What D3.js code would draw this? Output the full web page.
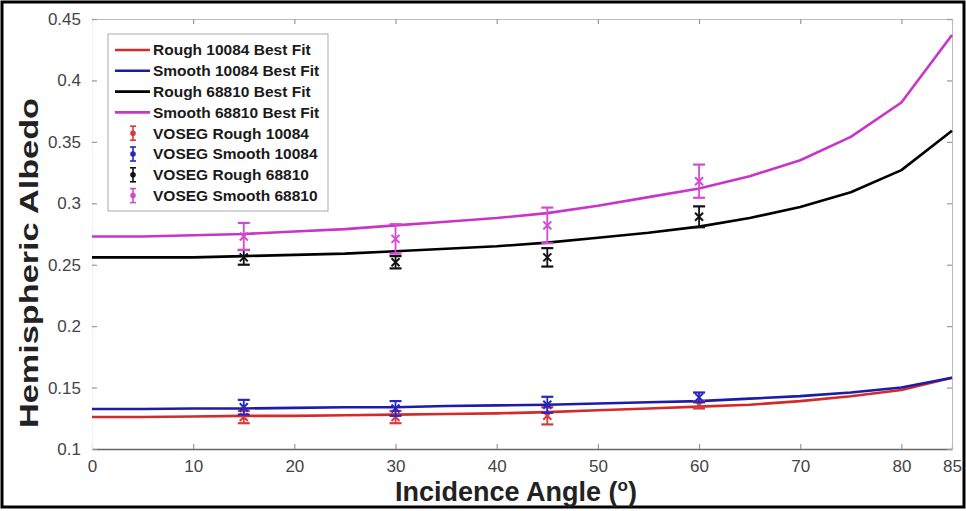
<!DOCTYPE html>
<html>
<head>
<meta charset="utf-8">
<script src="https://cdn.jsdelivr.net/npm/d3@7"></script>
<style>
  body { margin: 0; background: #fff; }
  svg { display: block; font-family: "Liberation Sans", Arial, sans-serif; }
</style>
</head>
<body>
<div class="chart"></div>
<script>
var svgWidth = 966;
var svgHeight = 511;

// best fit curves, sampled every 5 degrees
var angles = [0, 5, 10, 15, 20, 25, 30, 35, 40, 45, 50, 55, 60, 65, 70, 75, 80, 85];
var roughFit10084 = [0.126, 0.126, 0.1265, 0.127, 0.127, 0.1275, 0.128, 0.1285, 0.129, 0.130, 0.1315, 0.133, 0.1345, 0.136, 0.139, 0.143, 0.148, 0.158];
var smoothFit10084 = [0.1325, 0.1325, 0.133, 0.133, 0.1335, 0.134, 0.134, 0.135, 0.1355, 0.136, 0.137, 0.138, 0.139, 0.141, 0.143, 0.146, 0.150, 0.158];
var roughFit68810 = [0.256, 0.256, 0.256, 0.257, 0.258, 0.259, 0.261, 0.263, 0.265, 0.268, 0.272, 0.276, 0.281, 0.288, 0.297, 0.309, 0.327, 0.359];
var smoothFit68810 = [0.273, 0.273, 0.274, 0.275, 0.277, 0.279, 0.282, 0.285, 0.288, 0.292, 0.298, 0.305, 0.312, 0.322, 0.335, 0.354, 0.382, 0.437];

// VOSEG measurements with error half-widths
var vosegAngles = [15, 30, 45, 60];
var vosegRough10084 = [0.126, 0.126, 0.127, 0.136];
var vosegRough10084Err = [0.005, 0.005, 0.007, 0.003];
var vosegSmooth10084 = [0.134, 0.133, 0.136, 0.142];
var vosegSmooth10084Err = [0.006, 0.006, 0.0065, 0.004];
var vosegRough68810 = [0.256, 0.252, 0.256, 0.289];
var vosegRough68810Err = [0.006, 0.005, 0.0075, 0.0085];
var vosegSmooth68810 = [0.273, 0.271, 0.282, 0.318];
var vosegSmooth68810Err = [0.011, 0.012, 0.0145, 0.0135];

var xTicks = [0, 10, 20, 30, 40, 50, 60, 70, 80, 85];
var yTicks = [0.1, 0.15, 0.2, 0.25, 0.3, 0.35, 0.4, 0.45];

var fitLabels = ["Rough 10084 Best Fit", "Smooth 10084 Best Fit", "Rough 68810 Best Fit", "Smooth 68810 Best Fit"];
var vosegLabels = ["VOSEG Rough 10084", "VOSEG Smooth 10084", "VOSEG Rough 68810", "VOSEG Smooth 68810"];

var lineColors = ["#d42a2a", "#1c1ca8", "#000000", "#c934c9"];
var barColors = ["#d63a3a", "#2626c0", "#111111", "#d24ad2"];

var svg = d3.select(".chart")
  .append("svg")
  .attr("width", svgWidth)
  .attr("height", svgHeight);

var xLinearScale = d3.scaleLinear().domain([0, 85]).range([92, 952]);
var yLinearScale = d3.scaleLinear().domain([0.1, 0.45]).range([449, 19]);

// outer frame
svg.append("rect")
  .attr("x", 2).attr("y", 2)
  .attr("width", 962).attr("height", 505)
  .attr("fill", "#fff")
  .attr("stroke", "#000")
  .attr("stroke-width", 3);

// axes (ticks point inward, like matlab)
var bottomAxis = d3.axisBottom(xLinearScale).tickValues(xTicks).tickSizeInner(-5).tickSizeOuter(0).tickPadding(11);
var topAxis = d3.axisTop(xLinearScale).tickValues(xTicks).tickSizeInner(-5).tickSizeOuter(0).tickFormat("");
var leftAxis = d3.axisLeft(yLinearScale).tickValues(yTicks).tickSizeInner(-5).tickSizeOuter(0).tickPadding(11).tickFormat(d3.format(""));
var rightAxis = d3.axisRight(yLinearScale).tickValues(yTicks).tickSizeInner(-5).tickSizeOuter(0).tickFormat("");

var xAxis = svg.append("g").attr("transform", "translate(0, 449)").call(bottomAxis);
svg.append("g").attr("transform", "translate(0, 19)").call(topAxis);
var yAxis = svg.append("g").attr("transform", "translate(92, 0)").call(leftAxis);
svg.append("g").attr("transform", "translate(952, 0)").call(rightAxis);

svg.selectAll(".tick line").attr("stroke", "#999").attr("stroke-width", 1.2);
svg.selectAll(".domain").attr("stroke", "#bbb").attr("stroke-width", 1);
xAxis.select(".domain").attr("stroke", "#666").attr("stroke-width", 1.6);
yAxis.select(".domain").attr("stroke", "#f2f2f2");
svg.selectAll(".tick text")
  .attr("fill", "#444")
  .style("font-size", "17px")
  .style("font-family", "Liberation Sans, Arial, sans-serif");

// best fit lines
var fits = [roughFit10084, smoothFit10084, roughFit68810, smoothFit68810];
var line = d3.line()
  .x((d, i) => xLinearScale(angles[i]))
  .y(d => yLinearScale(d));

svg.selectAll(".fit")
  .data(fits)
  .enter()
  .append("path")
  .attr("class", "fit")
  .attr("d", d => line(d))
  .attr("fill", "none")
  .attr("stroke", (d, i) => lineColors[i])
  .attr("stroke-width", 2.6)
  .attr("stroke-linejoin", "round");

// error bars
var voseg = [
  [vosegRough10084, vosegRough10084Err],
  [vosegSmooth10084, vosegSmooth10084Err],
  [vosegRough68810, vosegRough68810Err],
  [vosegSmooth68810, vosegSmooth68810Err]
];

voseg.forEach(function(series, s) {
  var g = svg.append("g")
    .attr("stroke", barColors[s])
    .attr("stroke-width", 1.8)
    .attr("fill", "none");
  vosegAngles.forEach(function(a, i) {
    var cx = xLinearScale(a);
    var v = series[0][i];
    var e = series[1][i];
    var yTop = yLinearScale(v + e);
    var yBot = yLinearScale(v - e);
    var cy = yLinearScale(v);
    g.append("line").attr("x1", cx).attr("x2", cx).attr("y1", yTop).attr("y2", yBot);
    g.append("line").attr("x1", cx - 6).attr("x2", cx + 6).attr("y1", yTop).attr("y2", yTop).attr("stroke-width", 2.2);
    g.append("line").attr("x1", cx - 6).attr("x2", cx + 6).attr("y1", yBot).attr("y2", yBot).attr("stroke-width", 2.2);
    g.append("path")
      .attr("d", `M${cx - 4},${cy - 4}L${cx + 4},${cy + 4}M${cx - 4},${cy + 4}L${cx + 4},${cy - 4}`)
      .attr("stroke-width", 2);
  });
});

// legend
var legend = svg.append("g");
legend.append("rect")
  .attr("x", 108).attr("y", 34)
  .attr("width", 220).attr("height", 177)
  .attr("fill", "#fff")
  .attr("stroke", "#aaa")
  .attr("stroke-width", 1);

var rowY = d => 50 + d * 20.8;

fitLabels.forEach(function(label, i) {
  legend.append("line")
    .attr("x1", 115).attr("x2", 150)
    .attr("y1", rowY(i)).attr("y2", rowY(i))
    .attr("stroke", lineColors[i])
    .attr("stroke-width", 2.6);
});

vosegLabels.forEach(function(label, i) {
  var cy = rowY(i + 4);
  var g = legend.append("g").attr("stroke", barColors[i]).attr("stroke-width", 1.6);
  g.append("line").attr("x1", 133).attr("x2", 133).attr("y1", cy - 7).attr("y2", cy + 7);
  g.append("line").attr("x1", 130).attr("x2", 136).attr("y1", cy - 7).attr("y2", cy - 7);
  g.append("line").attr("x1", 130).attr("x2", 136).attr("y1", cy + 7).attr("y2", cy + 7);
  g.append("circle").attr("cx", 133).attr("cy", cy).attr("r", 2).attr("fill", barColors[i]);
});

legend.selectAll(".legend-text")
  .data(fitLabels.concat(vosegLabels))
  .enter()
  .append("text")
  .attr("x", 153)
  .attr("y", (d, i) => rowY(i))
  .attr("dy", "0.35em")
  .attr("fill", "#1a1a1a")
  .style("font-size", "15.5px")
  .style("font-weight", "bold")
  .text(d => d);

// axis titles
var xTitle = svg.append("text")
  .attr("x", 516)
  .attr("y", 501)
  .attr("text-anchor", "middle")
  .attr("fill", "#222")
  .style("font-size", "27px")
  .style("font-weight", "bold");
xTitle.append("tspan").text("Incidence Angle (");
xTitle.append("tspan").attr("dy", -10).style("font-size", "17px").text("o");
xTitle.append("tspan").attr("dy", 10).text(")");

svg.append("text")
  .attr("transform", "translate(38, 263) rotate(-90)")
  .attr("text-anchor", "middle")
  .attr("fill", "#222")
  .style("font-size", "25px")
  .style("font-weight", "bold")
  .attr("textLength", 330)
  .attr("lengthAdjust", "spacingAndGlyphs")
  .text("Hemispheric Albedo");
</script>
</body>
</html>
